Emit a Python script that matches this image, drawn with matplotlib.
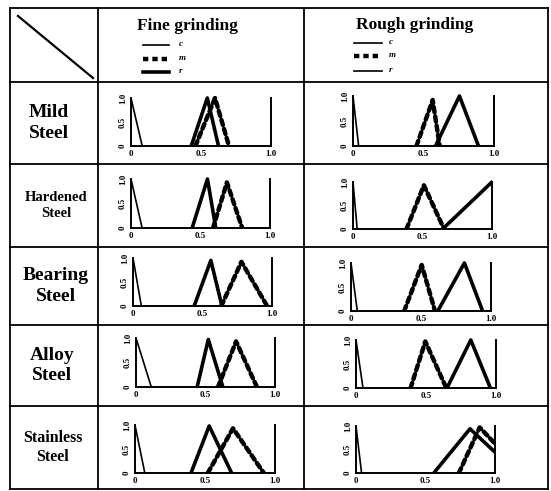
import matplotlib.pyplot as plt
from matplotlib.lines import Line2D

W, H = 551, 491

# row labels and column headers
materials = ["Mild\nSteel", "Hardened\nSteel", "Bearing\nSteel", "Alloy\nSteel", "Stainless\nSteel"]
columns = ["Fine grinding", "Rough grinding"]
legend_names = ["c", "m", "r"]

# membership functions: (left, peak, right) and peak height
fine_c_end = [0.08, 0.08, 0.06, 0.11, 0.07]
fine_r = [(0.43, 0.545, 0.625), (0.44, 0.55, 0.61), (0.44, 0.56, 0.64), (0.44, 0.52, 0.625), (0.40, 0.53, 0.69)]
fine_r_h = [1.0, 1.0, 0.95, 0.97, 0.98]
fine_m = [(0.46, 0.60, 0.70), (0.59, 0.69, 0.80), (0.635, 0.78, 0.965), (0.59, 0.72, 0.87), (0.52, 0.70, 0.92)]
fine_m_h = [1.0, 0.93, 0.92, 0.93, 0.93]

rough_c_end = [0.04, 0.03, 0.045, 0.05, 0.04]
rough_r = [(0.585, 0.755, 0.89), (0.645, 1.0, 1.35), (0.62, 0.81, 0.94), (0.65, 0.82, 0.96), (0.56, 0.82, 1.16)]
rough_r_h = [1.0, 1.0, 1.0, 1.0, 0.94]
rough_m = [(0.45, 0.565, 0.615), (0.385, 0.51, 0.655), (0.38, 0.505, 0.60), (0.39, 0.495, 0.645), (0.74, 0.89, 1.2)]
rough_m_h = [0.92, 0.93, 0.96, 0.97, 0.97]

xticks = [0, 0.5, 1.0]
xtick_labels = ["0", "0.5", "1.0"]

# table grid (pixels)
row_lines = [8, 82, 164, 247, 325, 406, 489]
col_lines = [10, 98, 304, 548]
label_x = [49, 56, 56, 52, 53]
label_size = [14, 10.5, 14, 14, 11.5]

# small plot boxes in pixels: (left, right, top(y=1), bottom(y=0))
fine_box = [(131, 271, 98, 146), (131, 270, 179, 228), (133, 272, 258, 306),
            (136, 275, 338, 387), (135, 275, 425, 473)]
rough_box = [(353, 494, 96, 146), (353, 492, 182, 229), (351, 491, 263, 311),
             (356, 496, 340, 388), (356, 495, 426, 473)]

plt.rcParams['font.family'] = ['Liberation Serif', 'DejaVu Serif']

fig = plt.figure(figsize=(W / 100, H / 100), dpi=100)
bg = fig.add_axes([0, 0, 1, 1])
bg.set_xlim(0, W)
bg.set_ylim(H, 0)
bg.axis("off")

for y in row_lines:
    bg.plot([col_lines[0], col_lines[-1]], [y, y], color="black", lw=1.3)
for x in col_lines:
    bg.plot([x, x], [row_lines[0], row_lines[-1]], color="black", lw=1.3)
bg.plot([18, 93], [16, 78], color="black", lw=1.6)

bg.text(187, 26, columns[0], ha="center", va="center", fontsize=12.5, fontweight="bold")
bg.text(415, 25, columns[1], ha="center", va="center", fontsize=12.5, fontweight="bold")

# legends in the header
dash = (0, (1.2, 0.9))
styles = [dict(lw=1.2, ls="-"), dict(lw=3.2, ls=dash), dict(lw=2.6, ls="-")]
rough_styles = [dict(lw=1.2, ls="-"), dict(lw=3.2, ls=dash), dict(lw=1.2, ls="-")]
for i, name in enumerate(legend_names):
    y = [45, 59, 72][i]
    bg.add_line(Line2D([143, 169], [y, y], color="black", **styles[i]))
    bg.text(179, y - 1, name, fontsize=6.5, fontweight="bold", style="italic", va="center")
    y = [43, 56, 71][i]
    bg.add_line(Line2D([354, 382], [y, y], color="black", **rough_styles[i]))
    bg.text(389, y - 1, name, fontsize=6.5, fontweight="bold", style="italic", va="center")

for i, m in enumerate(materials):
    yc = (row_lines[i + 1] + row_lines[i + 2]) / 2
    bg.text(label_x[i], yc, m, ha="center", va="center", fontsize=label_size[i],
            fontweight="bold", linespacing=1.25)


def tri(ax, t, h, **kw):
    ax.plot([t[0], t[1], t[2]], [0, h, 0], color="black", solid_capstyle="butt",
            dash_capstyle="round", **kw)


def small_axes(box):
    l, r, t, b = box
    top = 1.04
    hpx = (b - t) * top
    ax = fig.add_axes([l / W, 1 - b / H, (r - l) / W, hpx / H])
    ax.set_xlim(0, 1)
    ax.set_ylim(0, top)
    ax.patch.set_alpha(0)
    ax.spines["top"].set_visible(False)
    for s in ["left", "bottom", "right"]:
        ax.spines[s].set_linewidth(1.4)
    ax.spines["left"].set_bounds(0, 1)
    ax.spines["right"].set_bounds(0, 1)
    ax.set_xticks(xticks)
    ax.set_xticklabels(xtick_labels, fontsize=6.5, fontweight="bold")
    ax.set_yticks(xticks)
    ax.set_yticklabels(xtick_labels, fontsize=6.5, fontweight="bold", rotation=90, va="center")
    ax.tick_params(length=0, pad=3)
    return ax


for i in range(len(materials)):
    ax = small_axes(fine_box[i])
    ax.plot([0, fine_c_end[i]], [1, 0], color="black", lw=1.2)
    tri(ax, fine_r[i], fine_r_h[i], lw=2.6)
    tri(ax, fine_m[i], fine_m_h[i], lw=3.2, ls=dash)

    ax = small_axes(rough_box[i])
    ax.plot([0, rough_c_end[i]], [1, 0], color="black", lw=1.2)
    tri(ax, rough_r[i], rough_r_h[i], lw=2.6)
    tri(ax, rough_m[i], rough_m_h[i], lw=3.2, ls=dash)

fig.savefig("out.png", dpi=100)
